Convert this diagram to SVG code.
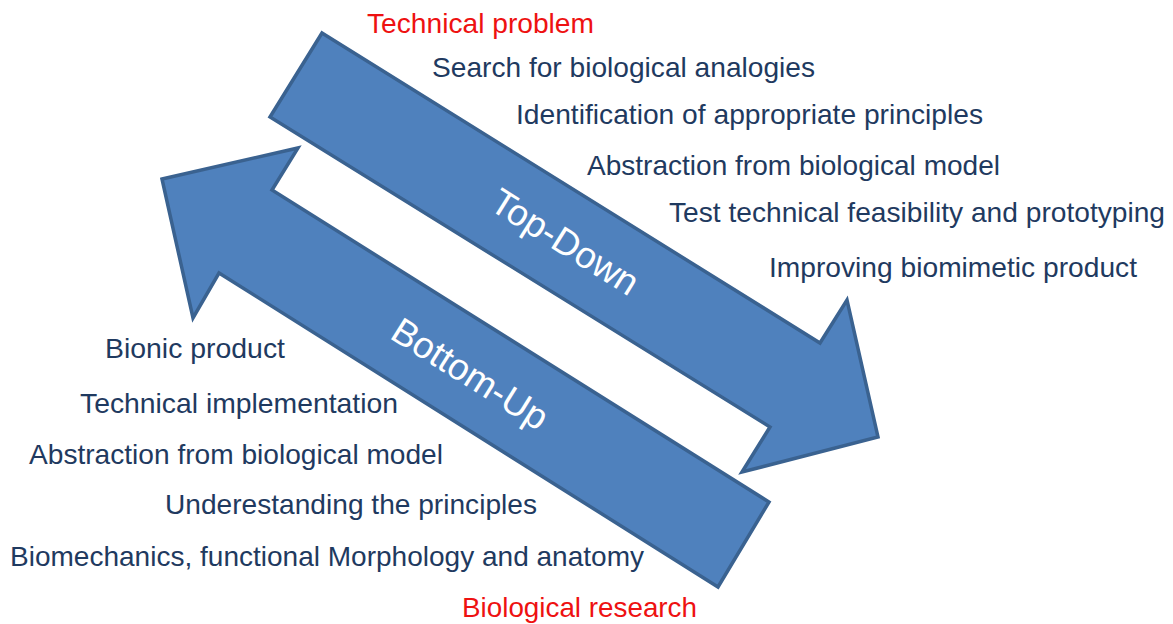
<svg xmlns="http://www.w3.org/2000/svg" width="1173" height="624" viewBox="0 0 1173 624">
  <style>
    .arrow { fill: #4f81bd; stroke: #3a6290; stroke-width: 3.5; stroke-linejoin: miter; }
    .step { font-family: "Liberation Sans", Arial, sans-serif; font-size: 28.5px; fill: #1f3a60; }
    .goal { font-family: "Liberation Sans", Arial, sans-serif; font-size: 28.5px; fill: #ee1111; }
    .flow { font-family: "Liberation Sans", Arial, sans-serif; font-size: 37px; fill: #ffffff; text-anchor: middle; dominant-baseline: central; }
  </style>
  <rect width="1173" height="624" fill="#ffffff"/>

  <g id="connectors">
    <!-- Top-Down block arrow -->
    <g id="top-down">
      <polygon class="arrow" points="322,33 820,343 847,300 878,437 742,472 770,427 270,117"/>
      <text class="flow" transform="translate(565,242) rotate(32)">Top-Down</text>
    </g>
    <!-- Bottom-Up block arrow -->
    <g id="bottom-up">
      <polygon class="arrow" points="162,179 298,148 272,190 769,502 718,587 219,273 193,318"/>
      <text class="flow" transform="translate(470,374) rotate(32)">Bottom-Up</text>
    </g>
  </g>

  <!-- Top-Down steps -->
  <g id="td-start"><text class="goal" x="367" y="33" textLength="227" lengthAdjust="spacingAndGlyphs">Technical problem</text></g>
  <g id="td-1"><text class="step" x="432" y="77" textLength="383" lengthAdjust="spacingAndGlyphs">Search for biological analogies</text></g>
  <g id="td-2"><text class="step" x="516" y="124" textLength="467" lengthAdjust="spacingAndGlyphs">Identification of appropriate principles</text></g>
  <g id="td-3"><text class="step" x="587" y="175" textLength="413" lengthAdjust="spacingAndGlyphs">Abstraction from biological model</text></g>
  <g id="td-4"><text class="step" x="669" y="222" textLength="496" lengthAdjust="spacingAndGlyphs">Test technical feasibility and prototyping</text></g>
  <g id="td-5"><text class="step" x="769" y="277" textLength="368" lengthAdjust="spacingAndGlyphs">Improving biomimetic product</text></g>

  <!-- Bottom-Up steps -->
  <g id="bu-5"><text class="step" x="105" y="358" textLength="180" lengthAdjust="spacingAndGlyphs">Bionic product</text></g>
  <g id="bu-4"><text class="step" x="80" y="413" textLength="318" lengthAdjust="spacingAndGlyphs">Technical implementation</text></g>
  <g id="bu-3"><text class="step" x="29" y="464" textLength="414" lengthAdjust="spacingAndGlyphs">Abstraction from biological model</text></g>
  <g id="bu-2"><text class="step" x="165" y="514" textLength="372" lengthAdjust="spacingAndGlyphs">Underestanding the principles</text></g>
  <g id="bu-1"><text class="step" x="10" y="566" textLength="634" lengthAdjust="spacingAndGlyphs">Biomechanics, functional Morphology and anatomy</text></g>
  <g id="bu-start"><text class="goal" x="462" y="617" textLength="235" lengthAdjust="spacingAndGlyphs">Biological research</text></g>
</svg>
